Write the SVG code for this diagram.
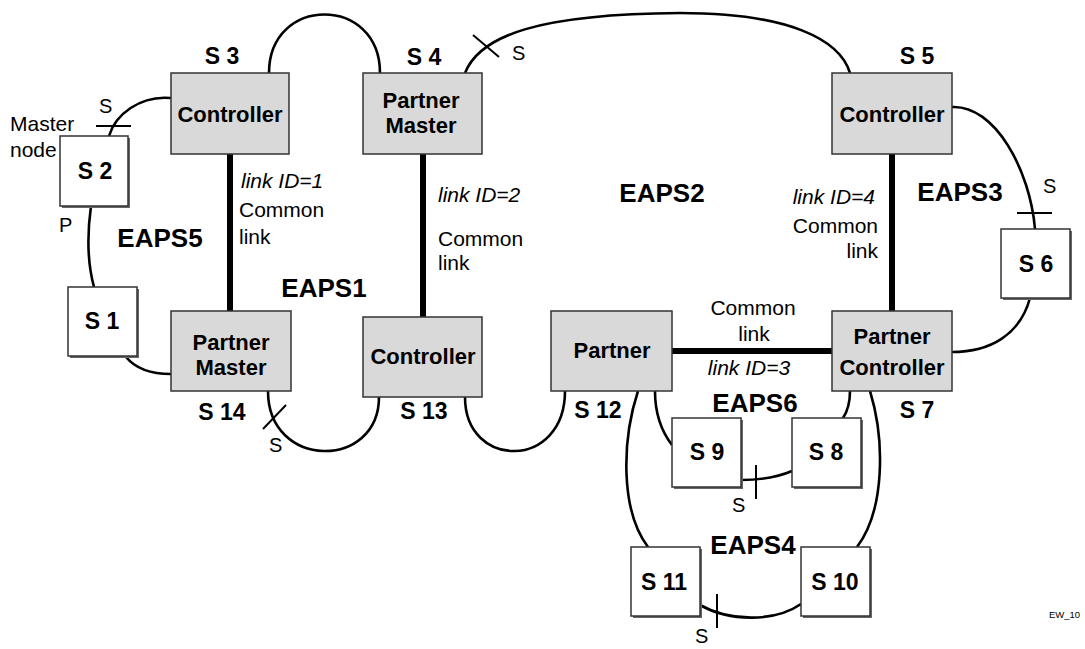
<svg xmlns="http://www.w3.org/2000/svg" width="1085" height="649" viewBox="0 0 1085 649">
<style>
text{font-family:"Liberation Sans",Arial,sans-serif;fill:#000}
.nl{font-size:22px;font-weight:bold;text-anchor:middle}
.sl{font-size:23px;font-weight:bold;text-anchor:middle}
.ea{font-size:26px;font-weight:bold;text-anchor:middle}
.tx{font-size:21px}
.it{font-size:21px;font-style:italic}
.sm{font-size:20px}
.gray{fill:#d9d9d9;stroke:#333;stroke-width:1.5}
.wb{fill:#fff;stroke:#333;stroke-width:1.5}
.sh{fill:#666}
.c{fill:none;stroke:#000;stroke-width:2.6}
.k{fill:none;stroke:#000;stroke-width:6}
.t{fill:none;stroke:#000;stroke-width:2}
</style>
<rect width="1085" height="649" fill="#fff"/>
<g id="connectors">
<path class="c" d="M269,73 C269,-5 380,-5 380,73"/>
<path class="c" d="M465,73 C480,35 540,14 680,13 C790,13 840,40 850,73"/>
<path class="c" d="M171,98 C140,95 115,115 109,136"/>
<path class="c" d="M91,206 C87,235 88,265 94,287"/>
<path class="c" d="M126,357 C135,368 150,374 171,374"/>
<path class="c" d="M268,391 C268,470 379,470 379,397"/>
<path class="c" d="M465,397 C465,470 565,470 565,391"/>
<path class="c" d="M952,107 C995,105 1030,170 1035,229"/>
<path class="c" d="M1030,298 C1020,335 990,352 952,352"/>
<path class="c" d="M655,391 C655,415 662,432 672,445"/>
<path class="c" d="M850,391 C850,403 847,412 843,418"/>
<path class="c" d="M741,480 C760,480 778,477 792,471"/>
<path class="c" d="M638,391 C622,440 620,510 648,547"/>
<path class="c" d="M870,391 C885,440 885,510 857,547"/>
<path class="c" d="M700,605 C730,622 775,622 801,604"/>
<line class="k" x1="230" y1="154" x2="230" y2="311"/>
<line class="k" x1="423" y1="154" x2="423" y2="317"/>
<line class="k" x1="892" y1="154" x2="892" y2="311"/>
<line class="k" x1="672" y1="351" x2="832" y2="351"/>
<line class="t" x1="96" y1="126" x2="131" y2="126"/>
<line class="t" x1="473" y1="35" x2="499" y2="57"/>
<line class="t" x1="1017" y1="213" x2="1052" y2="213"/>
<line class="t" x1="263" y1="429" x2="286" y2="405"/>
<line class="t" x1="756" y1="465" x2="756" y2="499"/>
<line class="t" x1="717" y1="594" x2="717" y2="628"/>
</g>
<g id="S3"><rect class="gray" x="171" y="73" width="118" height="81"/><text class="nl" x="230" y="122">Controller</text><text class="sl" x="222" y="64">S 3</text></g>
<g id="S4"><rect class="gray" x="363" y="73" width="119" height="81"/><text class="nl" x="421" y="108">Partner</text><text class="nl" x="421" y="133">Master</text><text class="sl" x="424" y="65">S 4</text></g>
<g id="S5"><rect class="gray" x="832" y="73" width="120" height="81"/><text class="nl" x="892" y="122">Controller</text><text class="sl" x="917" y="64">S 5</text></g>
<g id="S14"><rect class="gray" x="171" y="311" width="120" height="80"/><text class="nl" x="231" y="350">Partner</text><text class="nl" x="231" y="375">Master</text><text class="sl" x="222" y="420">S 14</text></g>
<g id="S13"><rect class="gray" x="363" y="317" width="119" height="80"/><text class="nl" x="423" y="364">Controller</text><text class="sl" x="424" y="419">S 13</text></g>
<g id="S12"><rect class="gray" x="551" y="311" width="121" height="80"/><text class="nl" x="612" y="358">Partner</text><text class="sl" x="598" y="418">S 12</text></g>
<g id="S7"><rect class="gray" x="832" y="311" width="120" height="80"/><text class="nl" x="892" y="344">Partner</text><text class="nl" x="892" y="375">Controller</text><text class="sl" x="917" y="418">S 7</text></g>
<g id="S2"><rect class="sh" x="62" y="138" width="68" height="70"/><rect class="wb" x="60" y="136" width="68" height="70"/><text class="sl" x="95" y="179">S 2</text></g>
<g id="S1"><rect class="sh" x="70" y="289" width="69" height="69"/><rect class="wb" x="68" y="287" width="69" height="69"/><text class="sl" x="102" y="329">S 1</text></g>
<g id="S6"><rect class="sh" x="1003" y="231" width="69" height="69"/><rect class="wb" x="1001" y="229" width="69" height="69"/><text class="sl" x="1036" y="272">S 6</text></g>
<g id="S9"><rect class="sh" x="674" y="420" width="69" height="69"/><rect class="wb" x="672" y="418" width="69" height="69"/><text class="sl" x="707" y="460">S 9</text></g>
<g id="S8"><rect class="sh" x="794" y="420" width="69" height="69"/><rect class="wb" x="792" y="418" width="69" height="69"/><text class="sl" x="826" y="460">S 8</text></g>
<g id="S11"><rect class="sh" x="633" y="549" width="69" height="69"/><rect class="wb" x="631" y="547" width="69" height="69"/><text class="sl" x="664" y="590">S 11</text></g>
<g id="S10"><rect class="sh" x="803" y="549" width="69" height="69"/><rect class="wb" x="801" y="547" width="69" height="69"/><text class="sl" x="835" y="590">S 10</text></g>
<g id="labels">
<text class="ea" x="160" y="247">EAPS5</text>
<text class="ea" x="324" y="297">EAPS1</text>
<text class="ea" x="662" y="202">EAPS2</text>
<text class="ea" x="960" y="201">EAPS3</text>
<text class="ea" x="755" y="412">EAPS6</text>
<text class="ea" x="753" y="554">EAPS4</text>
<text class="it" x="241" y="188">link ID=1</text>
<text class="tx" x="239" y="217">Common</text>
<text class="tx" x="239" y="244">link</text>
<text class="it" x="438" y="202">link ID=2</text>
<text class="tx" x="438" y="246">Common</text>
<text class="tx" x="438" y="270">link</text>
<text class="it" x="875" y="204" text-anchor="end">link ID=4</text>
<text class="tx" x="878" y="233" text-anchor="end">Common</text>
<text class="tx" x="878" y="258" text-anchor="end">link</text>
<text class="tx" x="753" y="315" text-anchor="middle">Common</text>
<text class="tx" x="754" y="341" text-anchor="middle">link</text>
<text class="it" x="749" y="375" text-anchor="middle">link ID=3</text>
<text class="tx" x="10" y="131">Master</text>
<text class="tx" x="10" y="157">node</text>
<text class="sm" x="59" y="232">P</text>
<text class="sm" x="99" y="113">S</text>
<text class="sm" x="512" y="60">S</text>
<text class="sm" x="1043" y="193">S</text>
<text class="sm" x="269" y="452">S</text>
<text class="sm" x="732" y="512">S</text>
<text class="sm" x="695" y="643">S</text>
<text x="1049" y="618" style="font-size:9.5px">EW_10</text>
</g>
</svg>
